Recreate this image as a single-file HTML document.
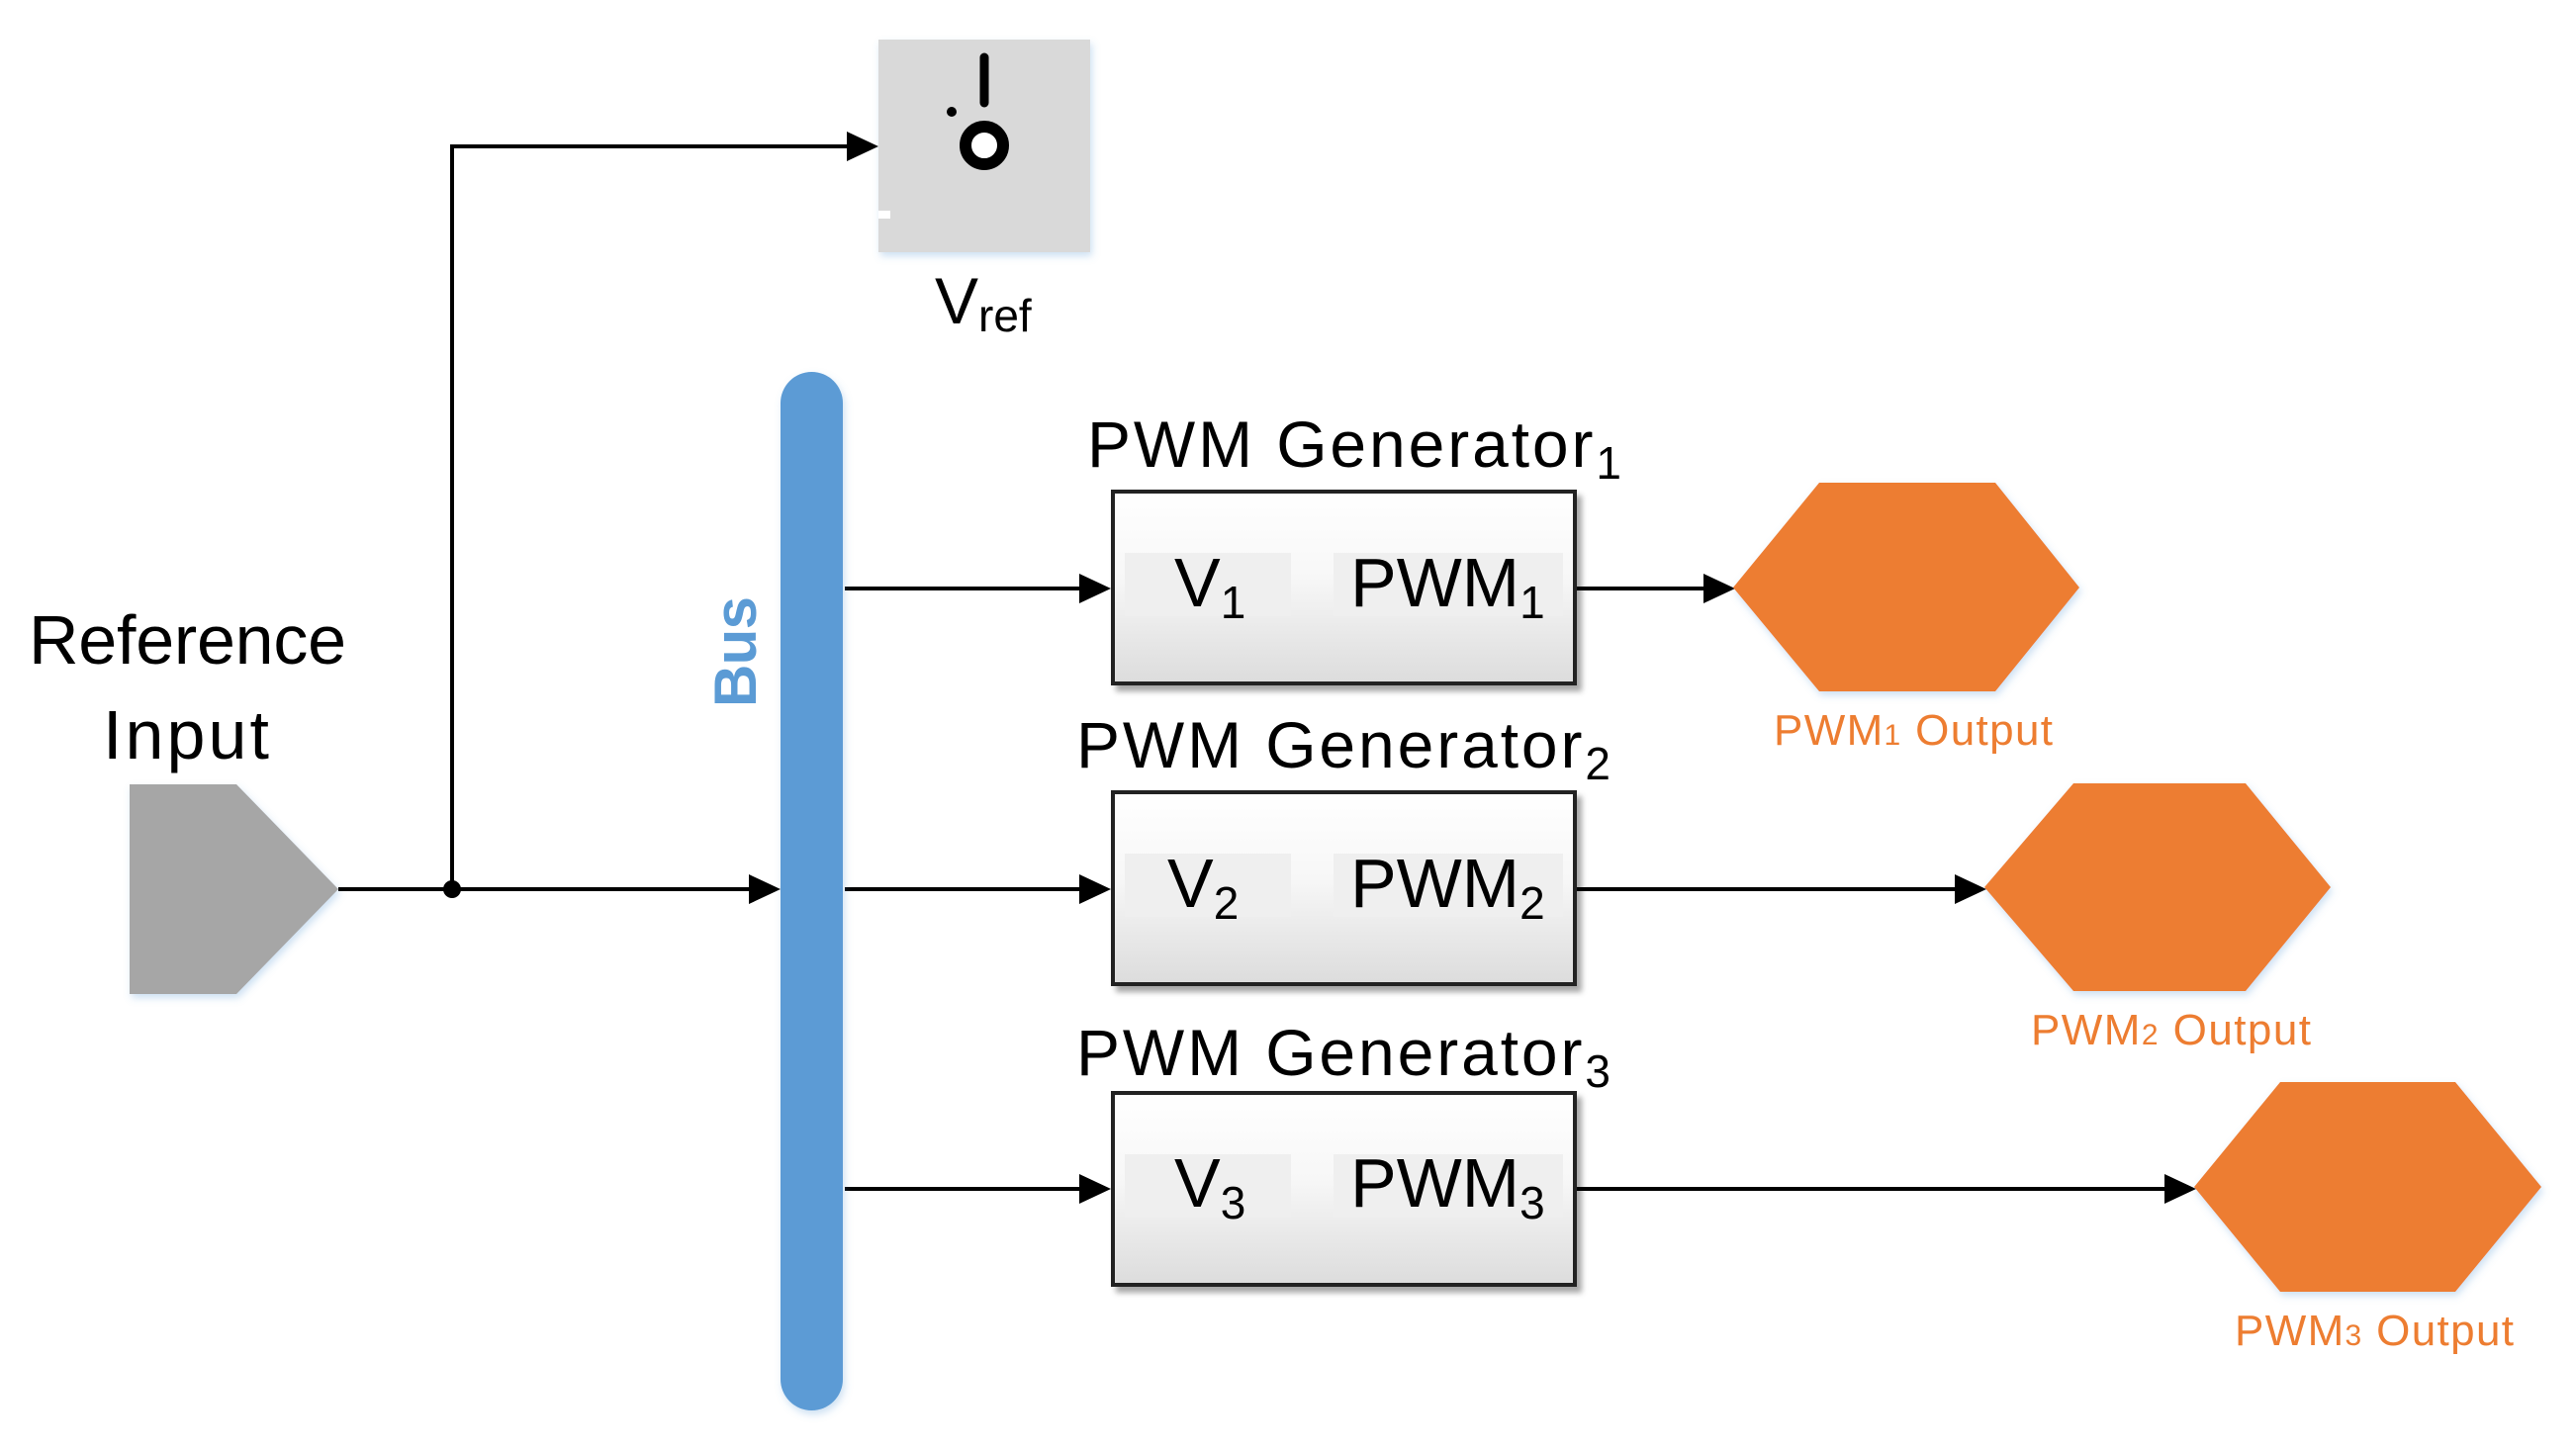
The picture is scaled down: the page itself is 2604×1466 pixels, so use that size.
<!DOCTYPE html>
<html><head><meta charset="utf-8"><style>
html,body{margin:0;padding:0;background:#fff;}
svg{display:block;}
text{font-family:"Liberation Sans",sans-serif;}
</style></head><body>
<svg width="2604" height="1466" viewBox="0 0 2604 1466" xmlns="http://www.w3.org/2000/svg">
<defs>
<marker id="ar" markerWidth="10" markerHeight="10" refX="10" refY="5" orient="auto" markerUnits="userSpaceOnUse" viewBox="0 0 10 10">
</marker>
<linearGradient id="bg" x1="0" y1="0" x2="0" y2="1">
<stop offset="0" stop-color="#ffffff"/><stop offset="0.45" stop-color="#f7f7f7"/><stop offset="1" stop-color="#dcdcdc"/>
</linearGradient>
<filter id="sh" x="-10%" y="-10%" width="130%" height="130%"><feDropShadow dx="5" dy="6" stdDeviation="3" flood-color="#000" flood-opacity="0.35"/></filter>
<filter id="sh2" x="-10%" y="-10%" width="130%" height="130%"><feDropShadow dx="2" dy="4" stdDeviation="4" flood-color="#5b9bd5" flood-opacity="0.3"/></filter>
</defs>

<!-- Vref block -->
<rect x="888" y="40" width="214" height="215" fill="#d9d9d9" filter="url(#sh2)"/>
<rect x="888" y="213" width="12" height="8" fill="#fff"/>
<line x1="995" y1="58" x2="995" y2="104" stroke="#000" stroke-width="9" stroke-linecap="round"/>
<circle cx="995" cy="147" r="19" fill="#fff" stroke="#000" stroke-width="12"/>
<circle cx="962" cy="113" r="5" fill="#000"/>
<text x="945" y="327" font-size="66">V<tspan font-size="46" dy="8">ref</tspan></text>

<!-- Reference input -->
<text x="29" y="671" font-size="70" textLength="321">Reference</text>
<text x="104" y="767" font-size="70" textLength="168">Input</text>
<polygon points="131,793 239,793 342,899 239,1005 131,1005" fill="#a6a6a6" filter="url(#sh2)"/>

<!-- lines -->
<g stroke="#000" stroke-width="4" fill="none">
<polyline points="342,899 457,899"/>
<polyline points="457,899 457,148 860,148"/>
<line x1="457" y1="899" x2="760" y2="899"/>
<line x1="854" y1="595" x2="1095" y2="595"/>
<line x1="854" y1="899" x2="1095" y2="899"/>
<line x1="854" y1="1202" x2="1095" y2="1202"/>
<line x1="1593" y1="595" x2="1725" y2="595"/>
<line x1="1593" y1="899" x2="1980" y2="899"/>
<line x1="1593" y1="1202" x2="2192" y2="1202"/>
</g>
<circle cx="457" cy="899" r="9" fill="#000"/>
<g fill="#000">
<polygon points="888,148 856,133 856,163"/>
<polygon points="789,899 757,884 757,914"/>
<polygon points="1123,595 1091,580 1091,610"/>
<polygon points="1123,899 1091,884 1091,914"/>
<polygon points="1123,1202 1091,1187 1091,1217"/>
<polygon points="1754,595 1722,580 1722,610"/>
<polygon points="2008,899 1976,884 1976,914"/>
<polygon points="2220,1202 2188,1187 2188,1217"/>
</g>

<!-- Bus -->
<rect x="789" y="376" width="63" height="1050" rx="31.5" fill="#5b9bd5" filter="url(#sh2)"/>
<text transform="translate(764,659) rotate(-90)" font-size="60" font-weight="bold" fill="#5b9bd5" text-anchor="middle" textLength="112">Bus</text>

<!-- PWM blocks -->
<g font-size="66">
<text x="1099" y="472" textLength="540">PWM Generator<tspan font-size="46" dy="12">1</tspan></text>
<text x="1088" y="776" textLength="540">PWM Generator<tspan font-size="46" dy="12">2</tspan></text>
<text x="1088" y="1087" textLength="540">PWM Generator<tspan font-size="46" dy="12">3</tspan></text>
</g>
<g>
<rect x="1125" y="497" width="467" height="194" fill="url(#bg)" stroke="#222" stroke-width="4" filter="url(#sh)"/>
<rect x="1137" y="559" width="168" height="64" fill="#efefef"/><rect x="1348" y="559" width="232" height="64" fill="#efefef"/>
<rect x="1125" y="801" width="467" height="194" fill="url(#bg)" stroke="#222" stroke-width="4" filter="url(#sh)"/>
<rect x="1137" y="863" width="168" height="64" fill="#efefef"/><rect x="1348" y="863" width="232" height="64" fill="#efefef"/>
<rect x="1125" y="1105" width="467" height="194" fill="url(#bg)" stroke="#222" stroke-width="4" filter="url(#sh)"/>
<rect x="1137" y="1167" width="168" height="64" fill="#efefef"/><rect x="1348" y="1167" width="232" height="64" fill="#efefef"/>
</g>
<g font-size="70">
<text x="1187" y="613">V<tspan font-size="46" dy="12">1</tspan></text>
<text x="1365" y="613">PWM<tspan font-size="46" dy="12">1</tspan></text>
<text x="1180" y="917">V<tspan font-size="46" dy="12">2</tspan></text>
<text x="1365" y="917">PWM<tspan font-size="46" dy="12">2</tspan></text>
<text x="1187" y="1220">V<tspan font-size="46" dy="12">3</tspan></text>
<text x="1365" y="1220">PWM<tspan font-size="46" dy="12">3</tspan></text>
</g>

<!-- Hexagons -->
<g fill="#ed7d31" filter="url(#sh2)">
<polygon points="1752,594 1839,488 2017,488 2102,594 2017,699 1839,699"/>
<polygon points="2006,897 2096,792 2270,792 2356,897 2270,1002 2096,1002"/>
<polygon points="2218,1200 2305,1094 2482,1094 2569,1200 2482,1306 2305,1306"/>
</g>
<g font-size="44" fill="#ed7d31">
<text x="1793" y="753" textLength="282">PWM<tspan font-size="30">1</tspan> Output</text>
<text x="2053" y="1056" textLength="283">PWM<tspan font-size="30">2</tspan> Output</text>
<text x="2259" y="1360" textLength="282">PWM<tspan font-size="30">3</tspan> Output</text>
</g>
</svg>
</body></html>
